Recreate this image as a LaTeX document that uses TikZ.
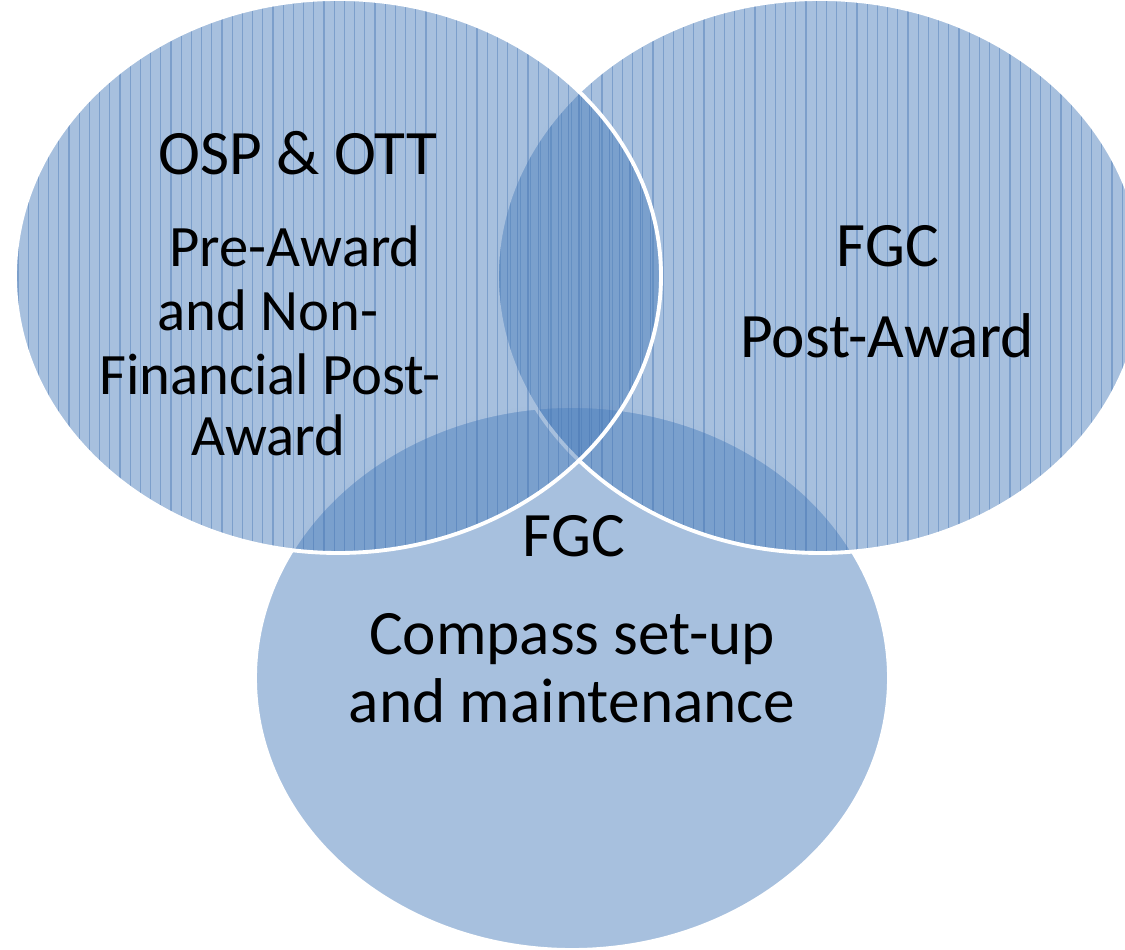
\documentclass[tikz,border=0pt]{standalone}
\usepackage{fontspec}
\setmainfont{Carlito}
\definecolor{vennblue}{HTML}{4F81BD}
\definecolor{hatchblue}{HTML}{3F6FB0}
\tikzset{
  vennfill/.style={fill=vennblue, fill opacity=0.5},
  vennedge/.style={draw=white, line width=1.1pt},
  hatch/.style={draw=hatchblue, draw opacity=0.4, line width=0.3pt},
  venntext/.style={font=\fontsize{18}{21}\selectfont, anchor=base, text=black},
  smalltext/.style={venntext, font=\fontsize{16.7}{20}\selectfont}
}
\begin{document}
\begin{tikzpicture}[x=0.1mm, y=-0.1mm]
  \clip (0,0) rectangle (1125,950);
  \def\ospoval{(338,276) ellipse [x radius=323, y radius=277]}
  \def\fgcoval{(820,276) ellipse [x radius=323, y radius=277]}
  \def\compassoval{(572,678) ellipse [x radius=317, y radius=272]}
  % bottom circle, no hatching
  \fill[vennfill] \compassoval;
  \draw[vennedge] \compassoval;
  % right oval
  \fill[vennfill] \fgcoval;
  \begin{scope}
    \clip \fgcoval;
    \foreach \x in {500,510.2,...,1145} \draw[hatch] (\x,0) -- (\x,560);
  \end{scope}
  \draw[vennedge] \fgcoval;
  % left oval
  \fill[vennfill] \ospoval;
  \begin{scope}
    \clip \ospoval;
    \foreach \x in {18,28.2,...,668} \draw[hatch] (\x,0) -- (\x,560);
  \end{scope}
  \draw[vennedge] \ospoval;
  % \draw[red] (0,0) grid[step=100] (1125,950);
  \node[venntext] (osp) at (298,175) {OSP \& OTT};
  \node[smalltext] (preaward) at (295,267) {Pre-Award};
  \node[smalltext] (nonfin) at (268,331) {and Non-};
  \node[smalltext] (finpost) at (270,395) {Financial Post-};
  \node[smalltext] (award) at (268,456) {Award};
  \node[venntext] (fgcright) at (888,267) {FGC};
  \node[venntext] (postaward) at (887,358) {Post-Award};
  \node[venntext] (fgcbottom) at (574,557) {FGC};
  \node[venntext] (compass) at (572,655) {Compass set-up};
  \node[venntext] (maint) at (572,723) {and maintenance};
\end{tikzpicture}
\end{document}
